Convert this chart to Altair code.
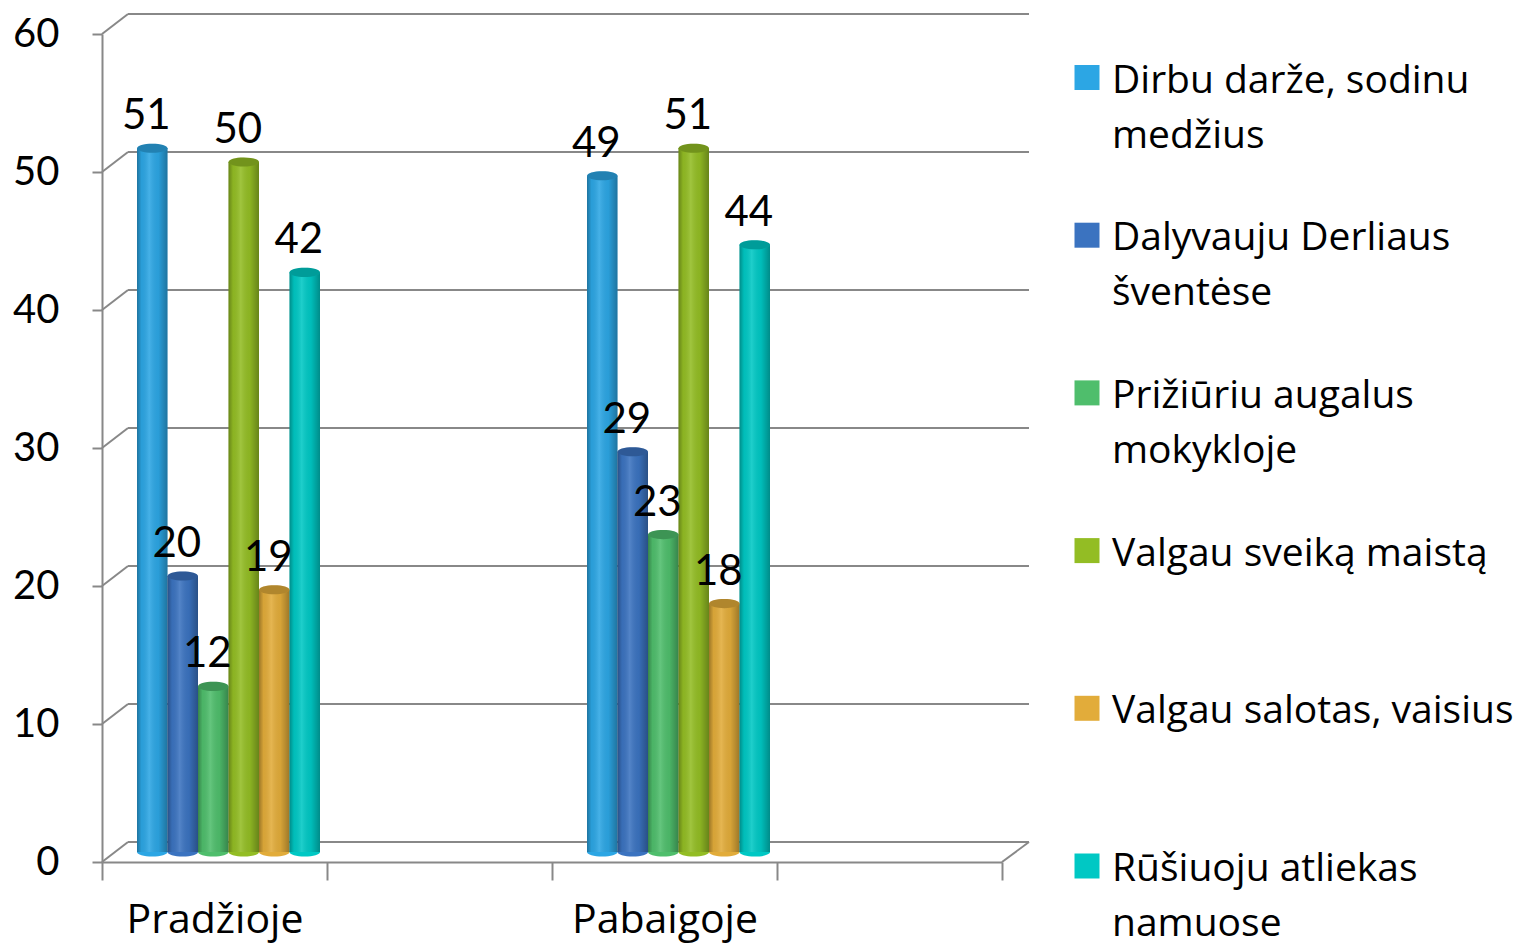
import altair as alt
import pandas as pd

categories = ["Pradžioje", "Pabaigoje"]
x_domain = ["Pradžioje", " ", "Pabaigoje", "  "]
series = [
    "Dirbu darže, sodinu medžius",
    "Dalyvauju Derliaus šventėse",
    "Prižiūriu augalus mokykloje",
    "Valgau sveiką maistą",
    "Valgau salotas, vaisius",
    "Rūšiuoju atliekas namuose",
]
legend_labels = [
    "Dirbu darže, sodinu\nmedžius",
    "Dalyvauju Derliaus\nšventėse",
    "Prižiūriu augalus\nmokykloje",
    "Valgau sveiką maistą",
    "Valgau salotas, vaisius",
    "Rūšiuoju atliekas\nnamuose",
]
values_start = [51, 20, 12, 50, 19, 42]
values_end = [49, 29, 23, 51, 18, 44]
colors = ["#2CA6E4", "#3B73C0", "#4FBE6C", "#93BD24", "#E2AC3A", "#00C8C4"]
y_ticks = [0, 10, 20, 30, 40, 50, 60]

NUMFONT = "Lato"
TXTFONT = "Open Sans"
GRID = "#888888"
W, H = 900, 828
DX, DY = 26, -20          # depth offset of back wall
BY = -10                  # bars sit at mid depth

rows = []
for cat, vals in zip(categories, [values_start, values_end]):
    for s, v in zip(series, vals):
        rows.append({"cat": cat, "series": s, "value": v})
df = pd.DataFrame(rows)

grid_df = pd.DataFrame({"v": y_ticks})
legend_df = pd.DataFrame({"series": series, "label": legend_labels})

yscale = alt.Scale(domain=[0, 60], nice=False, zero=True)
yaxis = alt.Axis(
    title=None,
    values=y_ticks,
    tickSize=10,
    tickColor=GRID,
    tickWidth=2,
    domainColor=GRID,
    domainWidth=2,
    labelFont=NUMFONT,
    labelFontSize=40,
    labelColor="black",
    labelPadding=33,
    grid=False,
)
xscale = alt.Scale(domain=x_domain, paddingInner=0, paddingOuter=0)
xoff = alt.XOffset(
    "series:N",
    scale=alt.Scale(domain=series, range=[35, 218], paddingInner=0, paddingOuter=0),
)
color = alt.Color("series:N", scale=alt.Scale(domain=series, range=colors), legend=None)

# back wall gridlines
back_grid = alt.Chart(grid_df).mark_rule(
    color=GRID, strokeWidth=2, xOffset=DX, x2Offset=DX + 1, yOffset=DY
).encode(
    y=alt.Y("v:Q", scale=yscale, axis=yaxis),
    x=alt.value(0),
    x2=alt.value(W),
)
# side wall diagonals
side = alt.Chart(grid_df).mark_rule(
    color=GRID, strokeWidth=2, x2Offset=DX, y2Offset=DY
).encode(
    y=alt.Y("v:Q", scale=yscale, axis=yaxis),
    y2="v:Q",
    x=alt.value(0),
    x2=alt.value(0),
)
# right floor diagonal
floor_right = alt.Chart(grid_df).transform_filter("datum.v == 0").mark_rule(
    color=GRID, strokeWidth=2, x2Offset=DX + 1, y2Offset=DY
).encode(
    y=alt.Y("v:Q", scale=yscale, axis=yaxis),
    y2="v:Q",
    x=alt.value(W),
    x2=alt.value(W),
)

ellipse = "M -1 0 A 1 0.3 0 1 0 1 0 A 1 0.3 0 1 0 -1 0 Z"

base = alt.Chart(df)
xenc = alt.X(
    "cat:N",
    scale=xscale,
    sort=x_domain,
    axis=alt.Axis(
        title=None,
        tickBand="extent",
        tickSize=18,
        tickColor=GRID,
        tickWidth=2,
        domainColor=GRID,
        domainWidth=2,
        labelFont=TXTFONT,
        labelFontSize=41,
        labelColor="black",
        labelPadding=20,
        labelAngle=0,
        labelBaseline="top",
        labelLimit=0,
        labelOverlap=False,
    ),
)
yenc = alt.Y("value:Q", scale=yscale, axis=yaxis)

bottoms = base.transform_calculate(zero="0").mark_point(
    shape=ellipse, filled=True, size=930, opacity=1, strokeWidth=0, yOffset=BY
).encode(x=xenc, xOffset=xoff, y=alt.Y("zero:Q", scale=yscale, axis=yaxis), color=color)

bars = base.mark_bar(yOffset=BY, y2Offset=BY).encode(
    x=xenc, xOffset=xoff, y=yenc, color=color
)
shade = alt.Gradient(
    gradient="linear",
    x1=0, x2=1, y1=0, y2=0,
    stops=[
        alt.GradientStop(color="rgba(0,0,0,0.30)", offset=0),
        alt.GradientStop(color="rgba(0,0,0,0.05)", offset=0.15),
        alt.GradientStop(color="rgba(255,255,255,0.12)", offset=0.4),
        alt.GradientStop(color="rgba(0,0,0,0.05)", offset=0.7),
        alt.GradientStop(color="rgba(0,0,0,0.30)", offset=1),
    ],
)
bar_shade = base.mark_bar(color=shade, yOffset=BY, y2Offset=BY).encode(
    x=xenc, xOffset=xoff, y=yenc
)
tops = base.mark_point(
    shape=ellipse, filled=True, size=930, opacity=1, strokeWidth=0, yOffset=BY
).encode(x=xenc, xOffset=xoff, y=yenc, color=color)
tops_dark = base.mark_point(
    shape=ellipse, filled=True, size=930, opacity=0.22, color="black", strokeWidth=0,
    yOffset=BY,
).encode(x=xenc, xOffset=xoff, y=yenc)

labels = base.mark_text(
    font=NUMFONT, fontSize=42, color="black", baseline="alphabetic", align="center",
    yOffset=BY, dx=-6, dy=-19,
).encode(x=xenc, xOffset=xoff, y=yenc, text="value:Q")

plot = alt.layer(back_grid, side, floor_right, bottoms, bars, bar_shade, tops, tops_dark, labels)

leg_y = alt.Y("series:N", scale=alt.Scale(type="point", domain=series, range=[43.5, 832], padding=0), axis=None)
leg_sq = alt.Chart(legend_df).mark_point(shape="square", filled=True, size=625, opacity=1, strokeWidth=0).encode(
    x=alt.value(W + 85), y=leg_y, color=color
)
leg_txt = alt.Chart(legend_df).mark_text(
    font=TXTFONT, fontSize=39, color="black", align="left", baseline="alphabetic", lineBreak="\n",
    lineHeight=55, dy=15,
).encode(x=alt.value(W + 110), y=leg_y, text="label:N")
legend = alt.layer(leg_sq, leg_txt)

chart = alt.layer(plot, legend).resolve_scale(y="independent").properties(
    width=W,
    height=H,
    background="white",
    autosize=alt.AutoSizeParams(type="none"),
    padding={"left": 94, "top": 26, "right": 523, "bottom": 85},
).configure_view(stroke=None)

chart.save("out.html", embed_options={"renderer": "svg", "actions": False})
